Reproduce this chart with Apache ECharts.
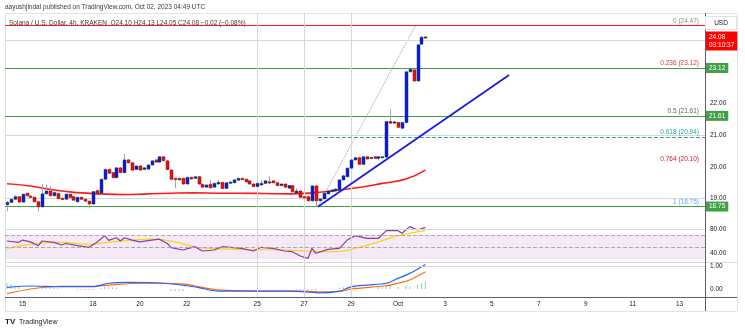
<!DOCTYPE html>
<html><head><meta charset="utf-8">
<script src="https://cdn.jsdelivr.net/npm/echarts@6/dist/echarts.min.js"></script>
<style>html,body{margin:0;padding:0;background:#fff}#c{width:745px;height:333px}</style>
</head><body><div id="c"></div>
<script>
// ---------- data (4h candles, index 0 = Sep 14 08:00 UTC) ----------
const slotCount = 179;
const tickIndex = [4,22,34,46,64,76,88,100,112,124,136,148,160,172];
const tickText  = ['15','18','20','22','25','27','29','Oct','3','5','7','9','11','13'];
const vLineIndex = [64,76,88];
const priceTicks = [19,20,21,22];
const rsiTicks = [80,40];
const macdTicks = [1,0];

const candleOpen = [18.81,18.88,18.98,19.06,18.89,19.17,19.08,19.04,18.90,18.74,
 19.15,19.24,19.09,19.16,19.01,18.98,19.14,19.06,18.90,19.04,
 18.98,18.92,18.83,19.25,19.17,19.61,19.92,19.82,19.66,19.97,
 19.82,20.22,20.13,19.92,20.03,19.92,19.93,20.06,20.22,20.15,
 20.32,20.19,19.90,19.64,19.64,19.64,19.46,19.67,19.64,19.69,
 19.45,19.36,19.45,19.36,19.46,19.51,19.32,19.50,19.50,19.58,
 19.64,19.61,19.56,19.46,19.38,19.43,19.48,19.53,19.56,19.50,
 19.41,19.46,19.33,19.41,19.17,19.24,19.06,19.06,18.93,19.40,
 18.93,18.99,19.15,19.22,19.24,19.27,19.59,19.69,19.96,20.22,
 20.29,20.08,20.32,20.28,20.32,20.27,20.31,20.31,21.43,21.38,
 21.40,21.22,21.40,23.00,23.06,22.71,23.87,24.10];
const candleClose = [18.88,18.98,19.06,18.89,19.14,19.09,19.04,18.90,18.74,19.15,
 19.24,19.09,19.19,19.00,18.98,19.14,19.04,18.95,19.04,18.98,
 18.92,18.83,19.22,19.15,19.61,19.92,19.80,19.66,19.97,19.82,
 20.22,20.13,19.90,20.03,19.90,19.97,20.06,20.19,20.15,20.32,
 20.20,19.92,19.61,19.61,19.59,19.46,19.67,19.62,19.69,19.46,
 19.36,19.43,19.34,19.48,19.51,19.32,19.50,19.52,19.59,19.64,
 19.61,19.53,19.46,19.38,19.48,19.48,19.56,19.52,19.50,19.41,
 19.46,19.36,19.41,19.22,19.24,19.04,19.03,18.93,19.40,18.93,
 18.99,19.17,19.24,19.27,19.30,19.59,19.72,19.96,20.22,20.29,
 20.08,20.32,20.25,20.30,20.27,20.32,20.32,21.43,21.38,21.42,
 21.25,21.40,23.00,23.08,22.71,23.85,24.09,24.08];
const candleLow = [18.60,18.86,18.96,18.87,18.87,19.07,19.02,18.88,18.60,18.72,
 19.13,19.07,19.07,18.98,18.96,18.96,19.02,18.93,18.88,18.96,
 18.90,18.69,18.80,19.12,19.15,19.59,19.78,19.64,19.64,19.80,
 19.79,20.11,19.88,19.90,19.88,19.90,19.91,20.04,20.13,20.13,
 20.18,19.90,19.59,19.33,19.57,19.44,19.44,19.60,19.62,19.44,
 19.34,19.34,19.32,19.34,19.44,19.30,19.30,19.48,19.48,19.56,
 19.59,19.51,19.44,19.36,19.36,19.41,19.46,19.46,19.48,19.39,
 19.39,19.34,19.31,19.20,19.15,19.02,19.01,18.91,18.91,18.75,
 18.91,18.97,19.13,19.20,19.22,19.25,19.57,19.67,19.94,20.20,
 20.06,20.06,20.23,20.26,20.25,20.20,20.29,20.29,21.36,21.36,
 21.23,21.20,21.38,22.98,22.69,22.69,23.85,24.05];
const candleHigh = [18.93,19.00,19.10,19.08,19.16,19.19,19.10,19.06,18.92,19.46,
 19.44,19.40,19.22,19.18,19.03,19.16,19.16,19.08,19.06,19.06,
 19.00,18.94,19.24,19.28,19.63,19.95,19.95,19.84,20.00,19.99,
 20.41,20.25,20.15,20.05,20.05,19.99,20.08,20.21,20.24,20.34,
 20.34,20.21,19.92,19.66,19.66,19.66,19.69,19.69,19.71,19.71,
 19.47,19.45,19.59,19.50,19.59,19.53,19.52,19.55,19.61,19.66,
 19.66,19.63,19.58,19.48,19.50,19.59,19.58,19.70,19.58,19.52,
 19.48,19.48,19.43,19.43,19.33,19.26,19.08,19.08,19.42,19.42,
 19.01,19.19,19.26,19.30,19.32,19.61,19.74,19.98,20.24,20.31,
 20.31,20.34,20.34,20.32,20.34,20.34,20.34,21.45,21.82,21.45,
 21.42,21.42,23.02,23.10,23.08,23.87,24.13,24.13];

// moving average (red) read at sample candles
const maIdx = [0,6,12,18,24,30,36,42,48,54,60,66,72,78,84,90,96,102,107];
const maVal = [19.47,19.40,19.27,19.19,19.15,19.13,19.15,19.17,19.18,19.17,19.17,19.16,19.15,19.18,19.26,19.35,19.48,19.62,19.90];

// drawings
const trendIdx = [79.5,128.4];
const trendVal = [18.74,22.90];
const fibDiagIdx = [79.5,104.5];
const fibDiagVal = [18.75,24.47];
const fibStartIdx = 79.5;
const fibRatio = ['0','0.236','0.5','0.618','0.764','1'];
const fibPrice = [24.47,23.12,21.61,20.94,20.10,18.75];
const fibTextColor = ['#8a8d96','#e53935','#5d5f66','#26a69a','#e0102a','#5aa9e6'];
const greenLevels = [23.12,21.61,18.75];
const grayLevels = [24.00,21.00,19.00];
const lastPrice = 24.08;
const countdown = '03:10:37';

// RSI
const rsiIdx = [0,3,4,6,8,9,12,14,15,18,21,23,25,26,28,29,30,32,34,37,39,41,42,45,48,50,53,55,58,60,63,65,68,71,73,75,77,78,79,82,85,87,89,92,95,97,100,101,103,105,107];
const rsiVal = [60.5,58.3,62,59,52.7,60.5,58.3,53.8,56.3,52.7,50,58.3,69.4,61.6,66,60.5,66,62,59,62,63.5,56.3,49.4,45.5,51,43.8,45.5,51,49.4,48.3,43.8,50,48.3,43.8,42.7,35.5,31.6,48.3,40,46.6,48.3,62,69.4,65,65,77.7,77.7,73.3,84.4,78.8,83.3];
const rsiMaIdx = [0,6,14,21,26,37,43,49,60,70,75,80,84,88,95,100,107];
const rsiMaVal = [48.3,55,58.3,55,58.3,63.5,59,49.4,46.6,45.5,44.4,42.7,42.7,46.6,59,69.4,77.7];

// MACD
const macdIdx = [0,6,14,22,26,31,40,46,49,54,65,72,78,80,85,88,92,97,100,103,107];
const macdVal = [0.07,0.13,0.10,0.10,0.25,0.29,0.25,0.14,0.06,-0.09,-0.09,-0.09,-0.14,-0.17,-0.09,0.09,0.17,0.25,0.46,0.68,1.07];
const signalIdx = [0,6,14,22,26,34,40,46,49,54,65,75,80,85,88,97,100,103,107];
const signalVal = [-0.2,0.0,0.12,0.12,0.17,0.25,0.25,0.2,0.1,-0.04,-0.09,-0.09,-0.12,-0.12,0.0,0.14,0.25,0.39,0.75];
const histIdx = [0,1,2,3,9,10,11,12,13,18,19,20,21,22,24,25,26,27,28,42,43,44,45,74,75,76,77,78,79,85,86,87,88,89,95,96,97,98,100,102,103,105,106,107];
const histVal = [0.25,0.2,0.15,0.1,0.05,0.06,0.05,0.04,0.04,-0.03,-0.04,-0.05,-0.04,-0.03,0.05,0.1,0.1,0.08,0.06,-0.06,-0.08,-0.07,-0.08,-0.03,-0.05,-0.06,-0.05,-0.03,-0.06,0.05,0.08,0.1,0.12,0.1,0.08,0.07,0.15,0.13,0.1,0.12,0.1,0.2,0.25,0.32];

// ---------- chart ----------
const FONT = 'Liberation Sans';
const TXT = '#131722';
const GRIDC = '#d6d6d6';
const zip = (a,b) => a.map((v,i)=>[v,b[i]]);
const candleRows = candleOpen.map((o,i)=>[i,o,candleClose[i],candleLow[i],candleHigh[i]]);

function renderCandle(params, api){
  const i = api.value(0), o = api.value(1), c = api.value(2), l = api.value(3), h = api.value(4);
  const pO = api.coord([i,o]), pC = api.coord([i,c]), pL = api.coord([i,l]), pH = api.coord([i,h]);
  const x = Math.round(pO[0]);
  const up = c >= o;
  const top = Math.min(pO[1],pC[1]);
  const hgt = Math.max(Math.abs(pO[1]-pC[1]),1.2);
  return {type:'group', children:[
    {type:'line', shape:{x1:x+0.5,y1:pH[1],x2:x+0.5,y2:pL[1]}, style:{stroke:'#a6a6a6',lineWidth:1}},
    {type:'rect', shape:{x:x-1,y:top,width:3,height:hgt},
     style:{fill: up?'#1010f5':'#f01010', stroke: up?'#174d2a':'#7a0a0a', lineWidth:0.5}}
  ]};
}

const xBase = (gi, extra) => Object.assign({type:'value', gridIndex:gi, min:-0.5, max:slotCount-0.5,
  show:false, splitLine:{show:false}}, extra||{});

const vLineData = () => vLineIndex.map(v=>({xAxis:v, label:{show:false}, lineStyle:{color:GRIDC,width:1,type:'solid'}}));

const priceMarks = [];
grayLevels.forEach(p=>priceMarks.push({yAxis:p, lineStyle:{color:GRIDC,width:1,type:'solid'}, label:{show:false}}));
priceMarks.push({yAxis:fibPrice[0], lineStyle:{color:'#ff1a1a',width:1,type:'solid'}, label:{show:false}});
greenLevels.forEach(p=>priceMarks.push({yAxis:p, lineStyle:{color:'#43a047',width:1.2,type:'solid'},
  label:{show:true, position:'end', distance:1, formatter:p.toFixed(2), color:'#fff', backgroundColor:'#43a047',
         padding:[2,3,1,3], fontSize:6.5, fontFamily:FONT}}));
priceMarks.push({yAxis:lastPrice, lineStyle:{color:'rgba(0,0,0,0)'}, label:{show:true, position:'end', distance:0,
  offset:[0,3.5], formatter: lastPrice.toFixed(2)+'\n'+countdown, color:'#fff', backgroundColor:'#ff0000', padding:[2,3,2,4],
  fontSize:6.5, lineHeight:7.5, fontFamily:FONT}});

// fib levels: lines from fib start, labels at right end
const fibMarks = fibPrice.map((p,k)=>[
  {coord:[fibStartIdx,p], lineStyle:{color: k===3?'#26a69a':'rgba(0,0,0,0)', width:1, type:'dashed'},
   label:{show:true, position:'insideEndTop', distance:[6,1], formatter: fibRatio[k]+' ('+p.toFixed(2)+')',
          color:fibTextColor[k], fontSize:6.5, fontFamily:FONT}},
  {coord:[slotCount-0.5,p]}
]);

const option = {
  animation:false,
  backgroundColor:'#ffffff',
  textStyle:{fontFamily:FONT},
  grid:[
    {left:5, right:40, top:13, height:209},
    {left:5, right:40, top:222, height:40},
    {left:5, right:40, top:262, height:35}
  ],
  xAxis:[
    xBase(0), xBase(1),
    xBase(2, {show:true, axisLine:{show:false}, axisTick:{show:false},
      axisLabel:{show:true, customValues:tickIndex, margin:4, fontSize:6.5, color:TXT, fontFamily:FONT,
        formatter:v=>{const k=tickIndex.indexOf(Math.round(v)); return k<0?'':tickText[k];}}})
  ],
  yAxis:[
    {type:'value', gridIndex:0, position:'right', min:18.262, max:24.855, scale:true,
     axisLine:{show:false}, axisTick:{show:false}, splitLine:{show:false},
     axisLabel:{customValues:priceTicks, formatter:v=>v.toFixed(2), fontSize:6.5, color:TXT, margin:5, fontFamily:FONT}},
    {type:'value', gridIndex:1, position:'right', min:25.5, max:92.17,
     axisLine:{show:false}, axisTick:{show:false}, splitLine:{show:false},
     axisLabel:{customValues:rsiTicks, formatter:v=>v.toFixed(2), fontSize:6.5, color:TXT, margin:5, fontFamily:FONT}},
    {type:'value', gridIndex:2, position:'right', min:-0.348, max:1.174,
     axisLine:{show:false}, axisTick:{show:false}, splitLine:{show:false},
     axisLabel:{customValues:macdTicks, formatter:v=>v.toFixed(2), fontSize:6.5, color:TXT, margin:5, fontFamily:FONT}}
  ],
  series:[
    {name:'levels', type:'line', xAxisIndex:0, yAxisIndex:0, data:[], z:2, clip:false, silent:true,
     markLine:{symbol:['none','none'], silent:true, label:{show:false}, data: priceMarks.concat(vLineData())}},
    {name:'fib', type:'line', xAxisIndex:0, yAxisIndex:0, data:[], z:2, clip:false, silent:true,
     markLine:{symbol:['none','none'], silent:true, data: fibMarks}},
    {name:'fibDiag', type:'line', xAxisIndex:0, yAxisIndex:0, data: zip(fibDiagIdx,fibDiagVal), symbol:'none',
     lineStyle:{color:'#9a9a9a', width:1, type:'dotted'}, z:3},
    {name:'ma', type:'line', xAxisIndex:0, yAxisIndex:0, data: zip(maIdx,maVal), symbol:'none', smooth:0.5,
     lineStyle:{color:'#ff1a1a', width:1.6}, z:4},
    {name:'candles', type:'custom', xAxisIndex:0, yAxisIndex:0, data:candleRows, renderItem:renderCandle,
     encode:{x:0, y:[1,2,3,4]}, z:5},
    {name:'trend', type:'line', xAxisIndex:0, yAxisIndex:0, data: zip(trendIdx,trendVal), symbol:'none',
     lineStyle:{color:'#1a1ae6', width:1.8}, z:6},

    {name:'rsi', type:'line', xAxisIndex:1, yAxisIndex:1, data: zip(rsiIdx,rsiVal), symbol:'none',
     lineStyle:{color:'#8e3aa8', width:1.2}, z:4,
     markArea:{silent:true, itemStyle:{color:'rgba(156,39,176,0.10)'}, data:[[{yAxis:70},{yAxis:30}]]},
     markLine:{symbol:['none','none'], silent:true, label:{show:false}, data:[
       {yAxis:80, lineStyle:{color:GRIDC,width:1,type:'solid'}},
       {yAxis:70, lineStyle:{color:'#a8a8b0',width:1,type:'dashed'}},
       {yAxis:50, lineStyle:{color:'#a8a8b0',width:1,type:'dashed'}}
     ].concat(vLineData())}},
    {name:'rsiMa', type:'line', xAxisIndex:1, yAxisIndex:1, data: zip(rsiMaIdx,rsiMaVal), symbol:'none', smooth:0.4,
     lineStyle:{color:'#f5d90a', width:1.2}, z:3},

    {name:'hist', type:'bar', xAxisIndex:2, yAxisIndex:2, data: zip(histIdx,histVal), barWidth:1, z:2,
     itemStyle:{color:p=>p.value[1]>=0?'#7fcfc5':'#f48a8a'},
     markLine:{symbol:['none','none'], silent:true, label:{show:false}, data:[
       {yAxis:1, lineStyle:{color:GRIDC,width:1,type:'solid'}}
     ].concat(vLineData())}},
    {name:'signal', type:'line', xAxisIndex:2, yAxisIndex:2, data: zip(signalIdx,signalVal), symbol:'none', smooth:0.3,
     lineStyle:{color:'#ff6d00', width:1.2}, z:3},
    {name:'macd', type:'line', xAxisIndex:2, yAxisIndex:2, data: zip(macdIdx,macdVal), symbol:'none', smooth:0.3,
     lineStyle:{color:'#2962ff', width:1.2}, z:4}
  ],
  graphic:[
    {type:'rect', shape:{x:5.5,y:13.5,width:732,height:298}, style:{fill:'none',stroke:'#e0e3eb',lineWidth:1}, z:0, silent:true},
    {type:'line', shape:{x1:5,y1:262.5,x2:737,y2:262.5}, style:{stroke:GRIDC,lineWidth:1}, z:1},
    {type:'line', shape:{x1:705.5,y1:13,x2:705.5,y2:311}, style:{stroke:'#5d606b',lineWidth:1}, z:20},
    {type:'line', shape:{x1:5,y1:297.5,x2:737,y2:297.5}, style:{stroke:'#5d606b',lineWidth:1}, z:20},
    {type:'text', left:5, top:4, style:{text:'aayushjindal published on TradingView.com, Oct 02, 2023 04:49 UTC', fontSize:6.5, fill:'#3a3a3a', fontFamily:FONT}},
    {type:'text', left:9, top:20, z:1, style:{text:'Solana / U.S. Dollar, 4h, KRAKEN  O24.10 H24.13 L24.05 C24.08 \u22120.02 (\u22120.08%)', fontSize:6.5, fill:'#3a3a3a', fontFamily:FONT}},
    {type:'rect', shape:{x:705.5,y:16.5,width:31,height:13}, style:{fill:'#fff',stroke:'#e0e3eb',lineWidth:1}, z:25},
    {type:'text', x:721, y:23, z:26, style:{text:'USD', fontSize:6.5, fill:TXT, align:'center', verticalAlign:'middle', fontFamily:FONT}},
    {type:'text', left:5, top:318, style:{text:'TV', fontSize:8, fontWeight:'bold', fill:'#131722', fontFamily:FONT}},
    {type:'text', left:19, top:319, style:{text:'TradingView', fontSize:7, fill:'#131722', fontFamily:FONT}}
  ]
};
const chart = echarts.init(document.getElementById('c'), null, {renderer:'canvas'});
chart.setOption(option);
</script></body></html>
